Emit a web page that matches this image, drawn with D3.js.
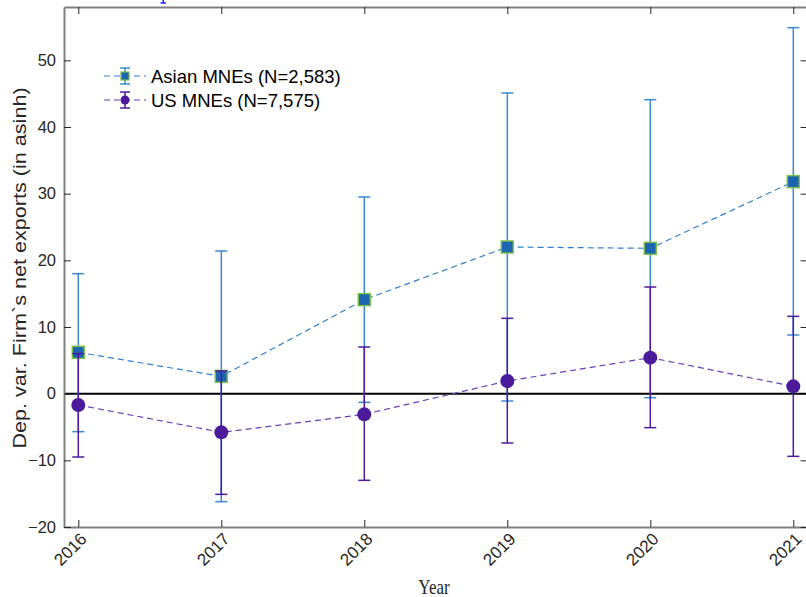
<!DOCTYPE html>
<html><head><meta charset="utf-8">
<script src="https://cdn.jsdelivr.net/npm/d3@7"></script>
<style>body{margin:0;background:#fff;}svg{display:block;}</style>
</head><body>
<svg id="chart" width="806" height="597"></svg>
<script>
const years = [2016, 2017, 2018, 2019, 2020, 2021];
const yTicks = [-20, -10, 0, 10, 20, 30, 40, 50];
const asianMean = [6.2, 2.6, 14.1, 22.0, 21.8, 31.8];
const asianLow = [-5.7, -16.2, -1.3, -1.1, -0.6, 8.8];
const asianHigh = [18.0, 21.4, 29.5, 45.1, 44.1, 54.9];
const usMean = [-1.7, -5.8, -3.1, 1.9, 5.4, 1.1];
const usLow = [-9.5, -15.1, -13.0, -7.4, -5.1, -9.4];
const usHigh = [6.0, 3.4, 7.0, 11.3, 16.0, 11.6];
const seriesNames = ["Asian MNEs (N=2,583)", "US MNEs (N=7,575)"];

const svg = d3.select("#chart");
const L = 64, R = 807.6, T = 7, B = 527;
const x = d3.scaleLinear().domain([2015.9, 2021.1]).range([L, R]);
const y = d3.scaleLinear().domain([-20, 58]).range([B, T]);

const axisCol = "#808080";
const blueLine = "#2f7fce", blueBar = "#3a88d2", blueFill = "#1d64b3", blueEdge = "#7cbf4a";
const purp = "#4b1b9b", purpLine = "#6b3eb5";

// fragment of a title that is cut off above the figure
const frag = svg.append("g").attr("stroke", "#1010ff").attr("stroke-width", 1.4);
frag.append("line").attr("x1", 163.3).attr("x2", 163.3).attr("y1", 0).attr("y2", 3);
frag.append("line").attr("x1", 160.5).attr("x2", 166).attr("y1", 3).attr("y2", 3);

// zero line
svg.append("line").attr("x1", L).attr("x2", R).attr("y1", y(0)).attr("y2", y(0))
  .attr("stroke", "#000").attr("stroke-width", 2);

// axes
const gx = svg.append("g").attr("transform", `translate(0,${B})`)
  .call(d3.axisBottom(x).tickValues(years).tickFormat(d3.format("d")).tickSizeInner(-7).tickSizeOuter(0));
const gxTop = svg.append("g").attr("transform", `translate(0,${T})`)
  .call(d3.axisTop(x).tickValues(years).tickFormat("").tickSizeInner(-7).tickSizeOuter(0));
const gy = svg.append("g").attr("transform", `translate(${L},0)`)
  .call(d3.axisLeft(y).tickValues(yTicks).tickFormat(d3.format("d")).tickSizeInner(-7).tickSizeOuter(0));
const gyR = svg.append("g").attr("transform", `translate(${R},0)`)
  .call(d3.axisRight(y).tickValues(yTicks).tickFormat("").tickSizeInner(-7).tickSizeOuter(0));
[gx, gxTop, gy, gyR].forEach(g => {
  g.select(".domain").attr("stroke", axisCol).attr("stroke-width", 2);
  g.selectAll(".tick line").attr("stroke", "#262626").attr("stroke-width", 1);
});
gy.selectAll(".tick text").attr("x", -8).attr("font-family", "Liberation Sans, Arial, sans-serif")
  .attr("font-size", 16.5).attr("fill", "#262626");
gx.selectAll(".tick text").attr("font-family", "Liberation Sans, Arial, sans-serif")
  .attr("font-size", 17).attr("fill", "#262626")
  .attr("text-anchor", "end").attr("dy", 0).attr("y", 0)
  .attr("transform", "translate(9,13) rotate(-45)");

// labels
svg.append("text").attr("transform", "translate(434,594) scale(1,1.25)").attr("text-anchor", "middle")
  .attr("font-family", "Liberation Serif, Times New Roman, serif").attr("font-size", 17).attr("fill", "#262626").text("Year");
svg.append("text").attr("transform", `translate(26,${268}) rotate(-90) scale(1.2,1)`).attr("text-anchor", "middle")
  .attr("font-family", "Liberation Sans, Arial, sans-serif").attr("font-size", 18).attr("fill", "#262626")
  .text("Dep. var. Firm`s net exports (in asinh)");

const cap = 6;
function drawSeries(mean, low, high, lineCol, barCol, kind) {
  const g = svg.append("g");
  g.append("path").datum(mean)
    .attr("d", d3.line().x((d, i) => x(years[i])).y(d => y(d)))
    .attr("fill", "none").attr("stroke", lineCol).attr("stroke-width", 1.2).attr("stroke-dasharray", "6,4");
  years.forEach((yr, i) => {
    const cx = x(yr);
    g.append("line").attr("x1", cx).attr("x2", cx).attr("y1", y(low[i])).attr("y2", y(high[i]))
      .attr("stroke", barCol).attr("stroke-width", 1.5);
    [low[i], high[i]].forEach(v => g.append("line").attr("x1", cx - cap).attr("x2", cx + cap)
      .attr("y1", y(v)).attr("y2", y(v)).attr("stroke", barCol).attr("stroke-width", 1.5));
  });
  years.forEach((yr, i) => {
    if (kind === "square") {
      g.append("rect").attr("x", x(yr) - 6).attr("y", y(mean[i]) - 6).attr("width", 12).attr("height", 12)
        .attr("fill", blueFill).attr("stroke", blueEdge).attr("stroke-width", 1.5);
    } else {
      g.append("circle").attr("cx", x(yr)).attr("cy", y(mean[i])).attr("r", 7).attr("fill", purp);
    }
  });
}
drawSeries(asianMean, asianLow, asianHigh, blueLine, blueBar, "square");
drawSeries(usMean, usLow, usHigh, purpLine, purp, "circle");

// legend
const leg = [
  {name: seriesNames[0], line: blueLine, bar: blueBar, kind: "square", yy: 76},
  {name: seriesNames[1], line: purpLine, bar: purp, kind: "circle", yy: 100}
];
leg.forEach(d => {
  const lg = svg.append("g");
  lg.append("line").attr("x1", 104).attr("x2", 146).attr("y1", d.yy).attr("y2", d.yy)
    .attr("stroke", d.line).attr("stroke-width", 1.2).attr("stroke-dasharray", "6,4");
  lg.append("line").attr("x1", 125).attr("x2", 125).attr("y1", d.yy - 8).attr("y2", d.yy + 8)
    .attr("stroke", d.bar).attr("stroke-width", 1.5);
  [d.yy - 8, d.yy + 8].forEach(v => lg.append("line").attr("x1", 120).attr("x2", 130)
    .attr("y1", v).attr("y2", v).attr("stroke", d.bar).attr("stroke-width", 1.5));
  if (d.kind === "square") {
    lg.append("rect").attr("x", 121).attr("y", d.yy - 4).attr("width", 8).attr("height", 8)
      .attr("fill", blueFill).attr("stroke", blueEdge).attr("stroke-width", 1.2);
  } else {
    lg.append("circle").attr("cx", 125).attr("cy", d.yy).attr("r", 4.5).attr("fill", purp);
  }
  lg.append("text").attr("x", 151).attr("y", d.yy + 6.5).attr("font-family", "Liberation Sans, Arial, sans-serif")
    .attr("font-size", 18.5).attr("fill", "#000").text(d.name);
});
</script>
</body></html>
